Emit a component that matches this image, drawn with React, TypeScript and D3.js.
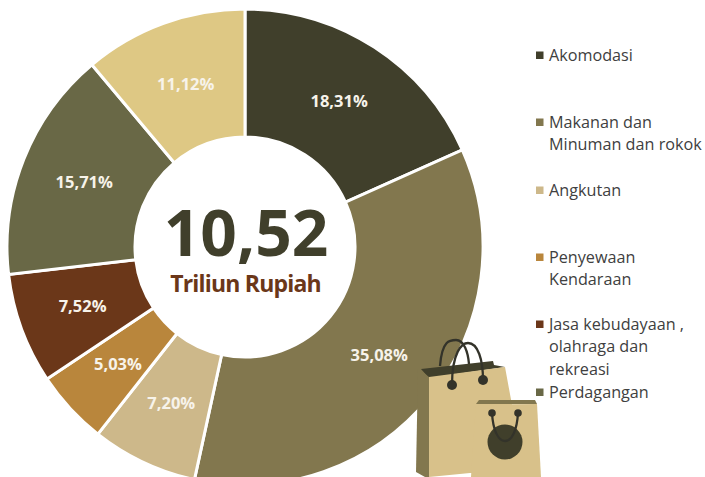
import React, { useEffect, useRef } from "react";
import * as d3 from "d3";

const values = [18.31, 35.08, 7.2, 5.03, 7.52, 15.71, 11.12];
const colors = ["#403f2b", "#82774e", "#cdb88a", "#b9863c", "#6b3719", "#696846", "#dec884"];
const legendLines = [["Akomodasi"], ["Makanan dan", "Minuman dan rokok"], ["Angkutan"], ["Penyewaan", "Kendaraan"], ["Jasa kebudayaan ,", "olahraga dan", "rekreasi"], ["Perdagangan"]];
const legendTops = [55, 122, 190, 257, 324, 392];

const width = 705;
const height = 477;
const font = "'Open Sans', sans-serif";

export default function App() {
  const ref = useRef<SVGSVGElement>(null);

  useEffect(() => {
    const svg = d3.select(ref.current);
    svg.selectAll("*").remove();

    const radius = 238;
    const inner = 110;
    const g = svg.append("g").attr("transform", "translate(245,247)");

    const pie = d3.pie<number>().sort(null)(values);
    const arc = d3.arc<d3.PieArcDatum<number>>().innerRadius(inner).outerRadius(radius);
    const labelArc = d3.arc<d3.PieArcDatum<number>>().innerRadius(173).outerRadius(173);

    g.selectAll("path.slice")
      .data(pie)
      .join("path")
      .attr("class", "slice")
      .attr("d", arc)
      .attr("fill", (d, i) => colors[i])
      .attr("stroke", "#fff")
      .attr("stroke-width", 3);

    g.selectAll("text.pct")
      .data(pie)
      .join("text")
      .attr("class", "pct")
      .attr("transform", (d) => `translate(${labelArc.centroid(d)})`)
      .attr("text-anchor", "middle")
      .attr("dy", "0.32em")
      .attr("font-family", font)
      .attr("font-weight", 700)
      .attr("font-size", 16.5)
      .attr("fill", "#f7f3ea")
      .text((d) => d.data.toFixed(2).replace(".", ",") + "%");

    svg.append("text")
      .attr("x", 246).attr("y", 256)
      .attr("text-anchor", "middle")
      .attr("font-family", font).attr("font-weight", 700).attr("font-size", 64)
      .attr("fill", "#403f2b")
      .text("10,52");
    svg.append("text")
      .attr("x", 245.5).attr("y", 292)
      .attr("text-anchor", "middle")
      .attr("font-family", font).attr("font-weight", 700).attr("font-size", 23)
      .attr("letter-spacing", -0.8)
      .attr("fill", "#6b3719")
      .text("Triliun Rupiah");

    // legend
    const legend = svg.append("g");
    legendLines.forEach((lines, i) => {
      legend.append("rect")
        .attr("x", 536).attr("y", legendTops[i] - 3.5)
        .attr("width", 7.5).attr("height", 7.5)
        .attr("fill", colors[i]);
      lines.forEach((line, j) => {
        legend.append("text")
          .attr("x", 549).attr("y", legendTops[i] + 5.5 + j * 22.7)
          .attr("font-family", font).attr("font-size", 16.2)
          .attr("fill", "#404040")
          .text(line);
      });
    });

    // shopping bags
    const bags = svg.append("g");
    const poly = (pts: string, fill: string) => bags.append("polygon").attr("points", pts).attr("fill", fill);
    const dot = (x: number, y: number, r: number, fill: string) =>
      bags.append("circle").attr("cx", x).attr("cy", y).attr("r", r).attr("fill", fill);
    const handle = (d: string, w: number) =>
      bags.append("path").attr("d", d).attr("fill", "none").attr("stroke", "#33332a").attr("stroke-width", w);

    handle("M440,366 C442,340 450,340 456,340 C464,340 468,352 469,364", 2.3);
    poly("421,369 493,361 494,365 505,367 429,378", "#403f2b");
    poly("418,368 429,377 429,477 425,477 416,472", "#82774e");
    poly("429,377 505,367 512,405 512,474 470,473 429,477", "#d8c18a");
    handle("M452,385 C452,352 462,343 468,343 C478,343 483,360 483,380", 2.3);
    dot(452, 385, 5, "#33332a");
    dot(483, 380, 5, "#33332a");

    poly("479,400 535,400 537,404 476,404", "#82774e");
    poly("476,404.5 537,404 541,477 471,477", "#d8c18a");
    dot(505, 442, 17.5, "#403f2b");
    handle("M492,413 C493,430 498,441 505,441 C512,441 517,430 518,413", 2.3);
    dot(492, 413, 3.8, "#33332a");
    dot(518, 413, 3.8, "#33332a");
  }, []);

  return (
    <svg
      ref={ref}
      width={width}
      height={height}
      style={{ position: "absolute", left: 0, top: 0, background: "#fff" }}
    />
  );
}
